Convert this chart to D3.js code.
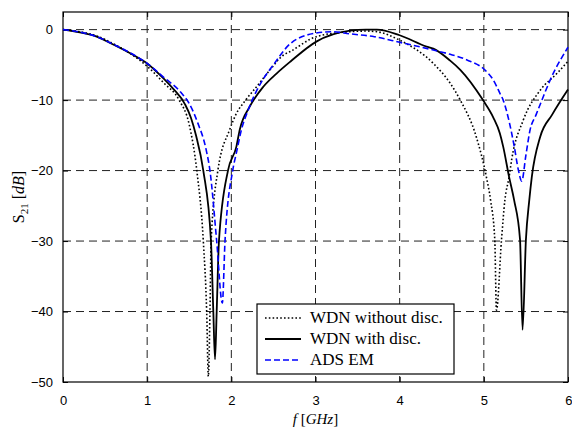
<!DOCTYPE html>
<html>
<head>
<meta charset="utf-8">
<script src="https://cdnjs.cloudflare.com/ajax/libs/d3/7.8.5/d3.min.js"></script>
<style>
  body { margin: 0; background: #fff; }
  .tick text { font-family: "Liberation Sans", Arial, sans-serif; font-size: 13px; fill: #000; }
</style>
</head>
<body>
<div id="chart"></div>
<script>
// S21 vs frequency, three curves
var xTicks = [0, 1, 2, 3, 4, 5, 6];
var yTicks = [0, -10, -20, -30, -40, -50];

var freqNoDisc = [0, 0.2, 0.4, 0.6, 0.8, 1.0, 1.2, 1.38, 1.5, 1.59, 1.667, 1.707, 1.727, 1.746, 1.76, 1.84, 1.98, 2.06, 2.17, 2.30, 2.46, 2.62, 2.70, 3.01, 3.41, 3.6, 3.73, 4.0, 4.4, 4.6, 4.72, 4.91, 5.03, 5.08, 5.13, 5.15, 5.21, 5.25, 5.30, 5.33, 5.47, 5.67, 5.87, 6.0];
var s21NoDisc = [0, -0.3, -0.9, -2.0, -3.4, -5.2, -7.6, -10, -13.5, -20, -30, -40, -49.2, -40, -30, -20, -14.2, -11.9, -10, -8.1, -5.7, -3.6, -3.1, -1.0, -0.3, -0.2, -0.3, -1.5, -4.8, -7.6, -10, -15.2, -20.9, -24.2, -29.8, -39.8, -29.8, -24.2, -20.9, -18.5, -12.8, -8.6, -6.2, -4.5];

var freqDisc = [0, 0.2, 0.4, 0.56, 0.835, 1.0, 1.2, 1.31, 1.45, 1.52, 1.58, 1.667, 1.758, 1.786, 1.806, 1.826, 1.853, 1.96, 2.06, 2.10, 2.22, 2.38, 2.54, 2.70, 3.01, 3.41, 3.6, 3.73, 4.0, 4.32, 4.4, 4.6, 4.72, 4.99, 5.11, 5.19, 5.23, 5.30, 5.36, 5.43, 5.46, 5.50, 5.54, 5.57, 5.67, 5.81, 6.0];
var s21Disc = [0, -0.4, -1.0, -1.9, -3.6, -4.8, -7.0, -8.4, -10.6, -12.5, -15, -20, -30, -40, -46.8, -40, -30, -20, -16.6, -14.2, -10.9, -8.1, -6.2, -4.55, -1.7, -0.15, 0, 0, -0.8, -2.4, -2.7, -4.4, -5.7, -10, -12.4, -14.7, -16.6, -20.9, -24.2, -29.8, -42.6, -29.8, -24.2, -20.9, -15.2, -12.1, -8.5];

var freqAds = [0, 0.2, 0.4, 0.6, 0.8, 1.0, 1.2, 1.4, 1.5, 1.6, 1.7, 1.746, 1.826, 1.893, 1.925, 2.016, 2.06, 2.12, 2.20, 2.34, 2.50, 2.70, 3.0, 3.2, 3.41, 3.7, 4.0, 4.4, 4.6, 4.8, 5.01, 5.11, 5.19, 5.23, 5.30, 5.36, 5.41, 5.45, 5.50, 5.55, 5.62, 5.69, 5.79, 6.0];
var s21Ads = [0, -0.35, -1.0, -2.1, -3.3, -4.8, -6.8, -8.9, -10.5, -13.2, -17, -20, -30, -38.8, -30, -20, -17.5, -14.2, -11.4, -7.8, -5.0, -2.0, -0.5, -0.3, -0.6, -1.0, -1.8, -2.9, -3.5, -4.3, -5.7, -7.1, -9.0, -10, -13, -16.5, -19.9, -21.5, -17.8, -14.2, -12.1, -10, -7.1, -2.5];

var seriesNames = ["WDN without disc.", "WDN with disc.", "ADS EM"];

var svgWidth = 572, svgHeight = 428;
var margin = {top: 12, right: 4, bottom: 46, left: 63};
var width = 568 - margin.left;
var height = 382 - margin.top;

var svg = d3.select("#chart").append("svg")
  .attr("width", svgWidth)
  .attr("height", svgHeight);

var chartGroup = svg.append("g")
  .attr("transform", `translate(${margin.left}, ${margin.top})`);

var xScale = d3.scaleLinear().domain([0, 6]).range([0, width]);
var yScale = d3.scaleLinear().domain([-50, 2.5]).range([height, 0]);

// grid
chartGroup.selectAll(".vgrid").data(xTicks.slice(1, -1)).enter().append("line")
  .attr("x1", d => xScale(d)).attr("x2", d => xScale(d))
  .attr("y1", 0).attr("y2", height)
  .attr("stroke", "#222").attr("stroke-width", 1).attr("stroke-dasharray", "8,5");
chartGroup.selectAll(".hgrid").data(yTicks.slice(0, -1)).enter().append("line")
  .attr("x1", 0).attr("x2", width)
  .attr("y1", d => yScale(d)).attr("y2", d => yScale(d))
  .attr("stroke", "#222").attr("stroke-width", 1).attr("stroke-dasharray", "8,5");

// axes (ticks point inward like matlab)
var bottomAxis = d3.axisBottom(xScale).tickValues(xTicks).tickFormat(d3.format("d")).tickSizeInner(-5).tickSizeOuter(0).tickPadding(14);
var leftAxis = d3.axisLeft(yScale).tickValues(yTicks).tickFormat(d3.format("d")).tickSizeInner(-5).tickSizeOuter(0).tickPadding(10);
var topAxis = d3.axisTop(xScale).tickValues(xTicks).tickSizeInner(-5).tickSizeOuter(0).tickFormat("");
var rightAxis = d3.axisRight(yScale).tickValues(yTicks).tickSizeInner(-5).tickSizeOuter(0).tickFormat("");

var xAxisG = chartGroup.append("g").attr("transform", `translate(0, ${height})`).call(bottomAxis);
chartGroup.append("g").call(leftAxis);
chartGroup.append("g").call(topAxis);
chartGroup.append("g").attr("transform", `translate(${width}, 0)`).call(rightAxis);
chartGroup.selectAll(".domain").remove();
chartGroup.selectAll(".tick line").attr("stroke", "#000");
// keep last label inside the window
xAxisG.selectAll(".tick text").filter(d => d === 6).attr("text-anchor", "end").attr("dx", 4);

chartGroup.append("rect")
  .attr("width", width).attr("height", height)
  .attr("fill", "none").attr("stroke", "#000").attr("stroke-width", 1.2);

// curves
var line = d3.line()
  .curve(d3.curveMonotoneX)
  .x(d => xScale(d[0]))
  .y(d => yScale(d[1]));

var curves = [
  {f: freqNoDisc, s: s21NoDisc, color: "#000", w: 1.6, dash: "1.6,2.2"},
  {f: freqDisc, s: s21Disc, color: "#000", w: 1.8, dash: null},
  {f: freqAds, s: s21Ads, color: "#0000ff", w: 1.6, dash: "6,3"}
];

curves.forEach(function(c) {
  var pts = c.f.map((f, i) => [f, c.s[i]]);
  chartGroup.append("path")
    .datum(pts)
    .attr("d", line)
    .attr("fill", "none")
    .attr("stroke", c.color)
    .attr("stroke-width", c.w)
    .attr("stroke-dasharray", c.dash);
});

// legend
var legend = svg.append("g").attr("transform", "translate(257, 304)");
legend.append("rect")
  .attr("width", 197).attr("height", 70)
  .attr("fill", "#fff").attr("stroke", "#000").attr("stroke-width", 1.2);
seriesNames.forEach(function(name, i) {
  var y = 14 + i * 21;
  legend.append("line")
    .attr("x1", 8).attr("x2", 44).attr("y1", y).attr("y2", y)
    .attr("stroke", curves[i].color)
    .attr("stroke-width", curves[i].w)
    .attr("stroke-dasharray", curves[i].dash);
  legend.append("text")
    .attr("x", 53).attr("y", y + 5)
    .attr("font-family", "'Liberation Serif', 'Times New Roman', serif")
    .attr("font-size", "17px")
    .text(name);
});

// axis labels
var xLabel = svg.append("text")
  .attr("x", margin.left + width / 2).attr("y", 424)
  .attr("text-anchor", "middle")
  .attr("font-family", "'Liberation Serif', 'Times New Roman', serif")
  .attr("font-size", "15px");
xLabel.append("tspan").attr("font-style", "italic").text("f");
xLabel.append("tspan").text(" [");
xLabel.append("tspan").attr("font-style", "italic").text("GHz");
xLabel.append("tspan").text("]");

var yLabel = svg.append("text")
  .attr("transform", `translate(24, ${margin.top + height / 2}) rotate(-90)`)
  .attr("text-anchor", "middle")
  .attr("font-family", "'Liberation Serif', 'Times New Roman', serif")
  .attr("font-size", "16px");
yLabel.append("tspan").text("S");
yLabel.append("tspan").attr("font-size", "11px").attr("dy", 4).text("21");
yLabel.append("tspan").attr("dy", -4).text(" [");
yLabel.append("tspan").attr("font-style", "italic").text("dB");
yLabel.append("tspan").text("]");
</script>
</body>
</html>
